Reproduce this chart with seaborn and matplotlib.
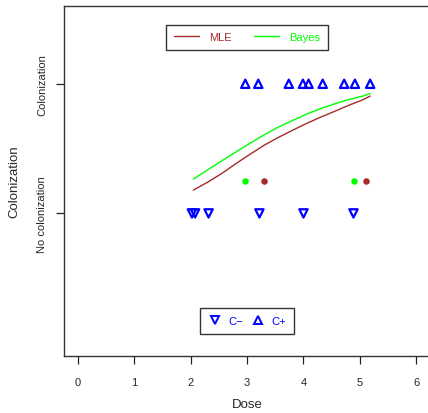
import numpy as np
import pandas as pd
from matplotlib import pyplot as plt
from matplotlib.lines import Line2D
import seaborn as sns

# dose-response curves
curve_dose = [2.05, 2.3, 2.55, 2.8, 3.05, 3.3, 3.55, 3.8, 4.05, 4.3, 4.55, 4.8, 5.05, 5.18]
mle_prob = [0.180, 0.240, 0.307, 0.383, 0.455, 0.525, 0.585, 0.640, 0.693,
            0.742, 0.787, 0.834, 0.876, 0.905]
bayes_prob = [0.265, 0.335, 0.405, 0.473, 0.540, 0.605, 0.665, 0.715, 0.765,
              0.808, 0.845, 0.878, 0.905, 0.925]

# observed animals
c_plus_dose = [2.97, 3.20, 3.74, 3.99, 4.09, 4.34, 4.72, 4.91, 5.18]
c_minus_dose = [2.025, 2.08, 2.32, 3.22, 4.00, 4.885]

# point estimates
mle_pts = [3.30, 5.10]
bayes_pts = [2.96, 4.89]
pts_level = 0.25

x_ticks = [0, 1, 2, 3, 4, 5, 6]
y_ticks = [0, 1]
y_ticklabels = ['No colonization', 'Colonization']

BROWN = '#a52a2a'
GREEN = '#00ff00'
BLUE = '#0000ff'

sns.set_style('white')
plt.rcParams['font.family'] = ['Liberation Sans', 'DejaVu Sans']

fig = plt.figure(figsize=(4.28, 4.14), dpi=100)
ax = fig.add_axes([64 / 428, 1 - 357 / 414, 366 / 428, 350 / 414])

curves = pd.DataFrame({'dose': curve_dose, 'MLE': mle_prob, 'Bayes': bayes_prob})
sns.lineplot(data=curves, x='dose', y='MLE', color=BROWN, lw=1, ax=ax)
sns.lineplot(data=curves, x='dose', y='Bayes', color=GREEN, lw=1, ax=ax)

sns.scatterplot(x=c_plus_dose, y=[1] * len(c_plus_dose), marker='^', s=36,
                facecolor='none', edgecolor=BLUE, linewidth=1.6, ax=ax)
sns.scatterplot(x=c_minus_dose, y=[0] * len(c_minus_dose), marker='v', s=36,
                facecolor='none', edgecolor=BLUE, linewidth=1.6, ax=ax)
sns.scatterplot(x=bayes_pts, y=[pts_level] * 2, color=GREEN, s=22,
                linewidth=0, ax=ax)
sns.scatterplot(x=mle_pts, y=[pts_level] * 2, color=BROWN, s=22,
                linewidth=0, ax=ax)

ax.set_xlim(-0.24, 6.24)
ax.set_ylim(-1.1, 1.6)
ax.set_xticks(x_ticks)
ax.set_yticks(y_ticks)
ax.set_yticklabels(y_ticklabels, rotation=90, va='center', fontsize=8)
ax.tick_params(axis='x', labelsize=8, length=6, width=0.9, pad=9,
               direction='out', bottom=True, color='#222222')
ax.tick_params(axis='y', length=6, width=0.9, pad=6, direction='out',
               left=True, color='#222222')
ax.set_xlabel('Dose', fontsize=9.5, labelpad=8)
ax.set_ylabel('Colonization', fontsize=9.5, labelpad=12)
for sp in ax.spines.values():
    sp.set_color('#333333')
    sp.set_linewidth(1)

# top legend
h1 = [Line2D([], [], color=BROWN, lw=1), Line2D([], [], color=GREEN, lw=1)]
leg1 = ax.legend(h1, ['MLE', 'Bayes'], ncol=2, loc='upper center',
                 bbox_to_anchor=(3, 1.5), bbox_transform=ax.transData,
                 fontsize=8, frameon=True, fancybox=False, handlelength=2.3,
                 handletextpad=0.9, columnspacing=2.0, borderpad=0.7,
                 labelcolor=[BROWN, GREEN])
leg1.get_frame().set_edgecolor('black')
leg1.get_frame().set_linewidth(1)
ax.add_artist(leg1)

# bottom legend
h2 = [Line2D([], [], ls='', marker='v', mfc='none', mec=BLUE, ms=5.5, mew=1.4),
      Line2D([], [], ls='', marker='^', mfc='none', mec=BLUE, ms=5.5, mew=1.4)]
leg2 = ax.legend(h2, ['C\u2212', 'C+'], ncol=2, loc='lower center',
                 bbox_to_anchor=(3, -0.97), bbox_transform=ax.transData,
                 fontsize=8, frameon=True, fancybox=False, handlelength=1.2,
                 handletextpad=0.6, columnspacing=0.8, borderpad=0.7,
                 labelcolor=BLUE)
leg2.get_frame().set_edgecolor('black')
leg2.get_frame().set_linewidth(1)

fig.savefig('out.png', dpi=100)
